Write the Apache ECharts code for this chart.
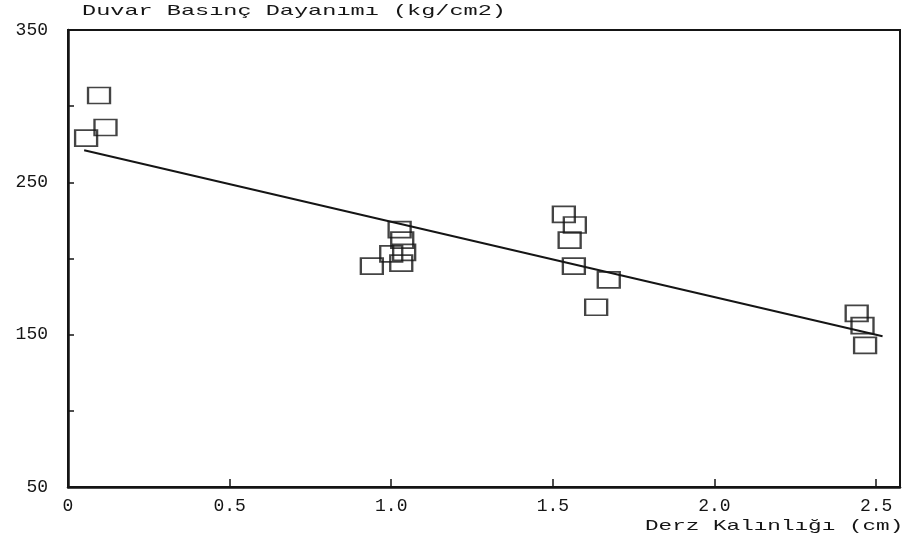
<!DOCTYPE html>
<html><head><meta charset="utf-8">
<script src="https://cdn.jsdelivr.net/npm/echarts@6/dist/echarts.min.js"></script>
<style>html,body{margin:0;padding:0;background:#fff}#c{width:906px;height:544px}</style>
</head><body><div id="c"></div>
<script>
const titleText = 'Duvar Basınç Dayanımı (kg/cm2)';
const xAxisTitle = 'Derz Kalınlığı (cm)';
const xTickLabels = ['0', '0.5', '1.0', '1.5', '2.0', '2.5'];
const yTickLabels = ['50', '150', '250', '350'];
const joint = [0.096, 0.116, 0.056, 0.94, 1.026, 1.034, 1.00, 1.04, 1.031, 1.534, 1.568, 1.552, 1.565, 1.673, 1.634, 2.44, 2.458, 2.466];
const strength = [307, 286, 279, 195, 219, 212, 203, 204, 197, 229, 222, 212, 195, 186, 168, 164, 156, 143];
const fitX = [0.05, 2.52];
const fitY = [271, 149];

const ink = '#151515';
const mono = '"Liberation Mono", "DejaVu Sans Mono", monospace';
const xMax = 2.574;

const chart = echarts.init(document.getElementById('c'), null, {renderer: 'canvas'});
const xLabelMap = {};
xTickLabels.forEach((t, i) => { xLabelMap[(i * 0.5).toFixed(1)] = t; });
const yLabelSet = new Set(yTickLabels);

chart.setOption({
  backgroundColor: '#fff',
  animation: false,
  grid: {left: 68, right: 6, top: 30, bottom: 57, show: true, borderColor: ink, borderWidth: 2, backgroundColor: 'transparent'},
  xAxis: {
    type: 'value', min: 0, max: xMax, interval: 0.5,
    axisLine: {show: true, onZero: false, lineStyle: {color: ink, width: 2.5}},
    axisTick: {show: true, inside: true, length: 8, lineStyle: {color: ink, width: 1.5}},
    splitLine: {show: false},
    axisLabel: {
      color: ink, fontFamily: mono, fontSize: 18, margin: 10,
      formatter: v => { const k = (Math.round(v * 2) / 2).toFixed(1); return Math.abs(v * 2 - Math.round(v * 2)) < 1e-6 && xLabelMap[k] !== undefined ? xLabelMap[k] : ''; }
    }
  },
  yAxis: {
    type: 'value', min: 50, max: 350, interval: 50,
    axisLine: {show: true, onZero: false, lineStyle: {color: ink, width: 2.5}},
    axisTick: {show: true, inside: true, length: 6, lineStyle: {color: ink, width: 1.5}},
    splitLine: {show: false},
    axisLabel: {
      color: ink, fontFamily: mono, fontSize: 18, margin: 20,
      formatter: v => yLabelSet.has(String(v)) ? String(v) : ''
    }
  },
  graphic: [
    {type: 'text', x: 82, y: 4, scaleX: 1.57, style: {text: titleText, font: '15px ' + mono, fill: ink, textAlign: 'left', textVerticalAlign: 'top'}},
    {type: 'text', x: 645, y: 519, scaleX: 1.51, style: {text: xAxisTitle, font: '15px ' + mono, fill: ink, textAlign: 'left', textVerticalAlign: 'top'}}
  ],
  series: [
    {
      type: 'scatter', symbol: 'rect', symbolSize: [22, 16],
      data: joint.map((x, i) => [x, strength[i]]),
      itemStyle: {color: 'rgba(255,255,255,0)', borderColor: ink, borderWidth: 2},
      emphasis: {disabled: true}, z: 3
    },
    {
      type: 'line', symbol: 'none', data: fitX.map((x, i) => [x, fitY[i]]),
      lineStyle: {color: ink, width: 2}, z: 2
    }
  ]
});
</script></body></html>
